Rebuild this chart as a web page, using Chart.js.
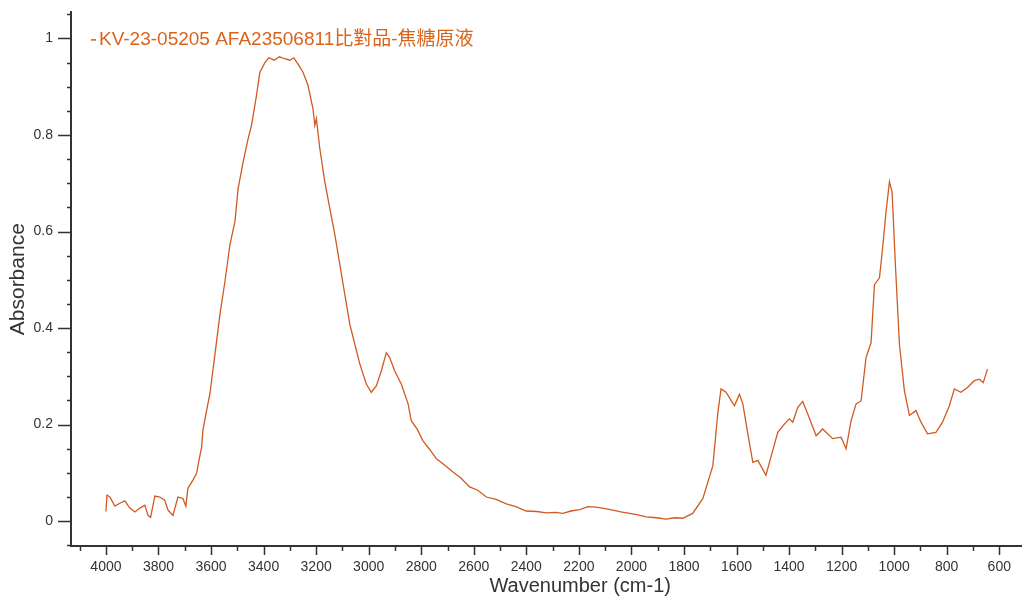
<!DOCTYPE html>
<html lang="zh-Hant">
<head>
    <meta charset="UTF-8">
    <title>FTIR Spectrum</title>
    <script src="https://cdn.jsdelivr.net/npm/chart.js"></script>
    <style>
        html, body { margin: 0; padding: 0; background: #fff; overflow: hidden; }
        #irChart { display: block; }
    </style>
</head>
<body>
    <canvas id="irChart" width="1024" height="601"></canvas>

    <script>
        // values
        const seriesName = 'KV-23-05205 AFA23506811比對品-焦糖原液';
        const xTitle = 'Wavenumber (cm-1)';

        const wavenumbers = [
            4000, 3996, 3985, 3966, 3947, 3928, 3909, 3890, 3871, 3852,
            3840, 3830, 3814, 3795, 3776, 3764, 3745, 3726, 3707, 3696,
            3688, 3669, 3655, 3646, 3636, 3631, 3617, 3604, 3585, 3566,
            3547, 3528, 3509, 3497, 3478, 3459, 3446, 3427, 3414, 3395,
            3380, 3360, 3340, 3320, 3300, 3285, 3269, 3250, 3231, 3212,
            3205, 3199, 3186, 3167, 3148, 3129, 3110, 3091, 3072, 3053,
            3034, 3009, 2990, 2971, 2952, 2933, 2920, 2901, 2876, 2850,
            2838, 2815, 2794, 2770, 2742, 2710, 2679, 2650, 2616, 2585,
            2552, 2515, 2476, 2440, 2400, 2360, 2324, 2290, 2261, 2230,
            2197, 2165, 2134, 2100, 2071, 2040, 2007, 1975, 1944, 1905,
            1868, 1835, 1805, 1767, 1728, 1690,
            1671, 1659, 1640, 1608, 1589, 1576, 1557, 1538, 1519, 1488,
            1469, 1443, 1418, 1399, 1386, 1367, 1348, 1329, 1297, 1272,
            1234, 1202, 1183, 1164, 1145, 1126, 1107, 1088, 1075, 1056,
            1044, 1031, 1018, 1008, 996, 980, 961, 942, 917, 898,
            873, 841, 816, 790, 771, 746, 721, 695, 676, 661,
            645
        ];

        const absorbance = [
            0.020, 0.054, 0.050, 0.031, 0.037, 0.042, 0.027, 0.019, 0.027, 0.033,
            0.012, 0.008, 0.052, 0.050, 0.043, 0.023, 0.012, 0.050, 0.047, 0.031,
            0.068, 0.085, 0.099, 0.126, 0.153, 0.188, 0.229, 0.265, 0.346, 0.429,
            0.497, 0.573, 0.621, 0.689, 0.744, 0.792, 0.820, 0.882, 0.930, 0.950,
            0.960, 0.955, 0.962, 0.958, 0.955, 0.960, 0.947, 0.930, 0.903, 0.854,
            0.820, 0.834, 0.772, 0.703, 0.648, 0.594, 0.532, 0.470, 0.408, 0.367,
            0.326, 0.284, 0.267, 0.280, 0.311, 0.349, 0.339, 0.311, 0.284, 0.243,
            0.208, 0.190, 0.167, 0.150, 0.129, 0.116, 0.102, 0.090, 0.071, 0.064,
            0.050, 0.045, 0.036, 0.030, 0.021, 0.020, 0.017, 0.018, 0.016, 0.021,
            0.024, 0.030, 0.029, 0.026, 0.023, 0.019, 0.016, 0.013, 0.009, 0.007,
            0.004, 0.007, 0.006, 0.016, 0.047, 0.115,
            0.225, 0.274, 0.267, 0.239, 0.263, 0.243, 0.181, 0.122, 0.126, 0.095,
            0.133, 0.184, 0.201, 0.212, 0.205, 0.236, 0.248, 0.222, 0.177, 0.191,
            0.171, 0.174, 0.150, 0.208, 0.243, 0.249, 0.339, 0.370, 0.490, 0.504,
            0.566, 0.641, 0.703, 0.682, 0.538, 0.366, 0.270, 0.219, 0.229, 0.205,
            0.181, 0.184, 0.205, 0.239, 0.274, 0.267, 0.277, 0.291, 0.294, 0.287,
            0.315
        ];

        const xTickValues = [4000, 3800, 3600, 3400, 3200, 3000, 2800, 2600, 2400, 2200,
                             2000, 1800, 1600, 1400, 1200, 1000, 800, 600];
        const yTickValues = [0, 0.2, 0.4, 0.6, 0.8, 1];
        const xMinorStep = 100;
        const yMinorStep = 0.05;

        const points = wavenumbers.map((w, i) => ({ x: w, y: absorbance[i] }));
        const lineColor = '#cf5a22';
        const textColor = '#333';
        const fontFamily = 'Arial, "Liberation Sans", sans-serif';

        // tick marks outside the plot, the legend entry and the x title
        const axisDecor = {
            id: 'axisDecor',
            afterDraw(chart) {
                const ctx = chart.ctx;
                const xs = chart.scales.x;
                const ys = chart.scales.y;
                const area = chart.chartArea;
                ctx.save();
                ctx.strokeStyle = '#333';
                ctx.lineWidth = 1.5;
                ctx.beginPath();
                for (let v = Math.ceil(xs.min / xMinorStep) * xMinorStep; v <= xs.max; v += xMinorStep) {
                    const px = Math.round(xs.getPixelForValue(v)) + 0.5;
                    const len = xTickValues.includes(v) ? 9 : 5;
                    ctx.moveTo(px, area.bottom);
                    ctx.lineTo(px, area.bottom + len);
                }
                for (let i = Math.ceil(ys.min / yMinorStep); i * yMinorStep <= ys.max; i++) {
                    const py = Math.round(ys.getPixelForValue(i * yMinorStep)) + 0.5;
                    const len = i % 4 === 0 ? 13 : 4;
                    ctx.moveTo(area.left, py);
                    ctx.lineTo(area.left - len, py);
                }
                ctx.stroke();

                // legend entry inside the plot, top left
                const ds = chart.data.datasets[0];
                const ly = area.top + 27;
                ctx.strokeStyle = ds.borderColor;
                ctx.lineWidth = 1.5;
                ctx.beginPath();
                ctx.moveTo(area.left + 20, ly + 0.5);
                ctx.lineTo(area.left + 25, ly + 0.5);
                ctx.stroke();
                ctx.fillStyle = '#d9631b';
                ctx.font = '19px Arial, "Liberation Sans", "Noto Sans CJK TC", sans-serif';
                ctx.textBaseline = 'middle';
                ctx.textAlign = 'left';
                ctx.fillText(ds.label, area.left + 28, ly);

                // axis title sits right of centre in the original
                ctx.fillStyle = textColor;
                ctx.font = '20px ' + fontFamily;
                ctx.textAlign = 'center';
                ctx.fillText(xTitle, xs.getPixelForValue(2195), area.bottom + 40);
                ctx.restore();
            }
        };

        const ctx = document.getElementById('irChart').getContext('2d');
        new Chart(ctx, {
            type: 'line',
            data: {
                datasets: [{
                    label: seriesName,
                    data: points,
                    borderColor: lineColor,
                    backgroundColor: lineColor,
                    borderWidth: 1.3,
                    pointRadius: 0,
                    tension: 0
                }]
            },
            options: {
                responsive: false,
                animation: false,
                devicePixelRatio: 1,
                layout: { padding: { top: 10, right: 2, left: 0, bottom: 0 } },
                plugins: {
                    legend: { display: false },
                    tooltip: { enabled: false }
                },
                scales: {
                    x: {
                        type: 'linear',
                        reverse: true,
                        min: 516,
                        max: 4133,
                        grid: { display: false, drawTicks: false },
                        border: { display: true, color: '#333', width: 2 },
                        afterBuildTicks(scale) {
                            scale.ticks = xTickValues.map(v => ({ value: v }));
                        },
                        ticks: {
                            autoSkip: false,
                            maxRotation: 0,
                            padding: 13,
                            color: textColor,
                            font: { family: fontFamily, size: 14 },
                            callback: v => String(v)
                        },
                        title: { display: false },
                        afterFit(scale) { scale.height = 55; }
                    },
                    y: {
                        min: -0.0515,
                        max: 1.054,
                        grid: {
                            display: true,
                            drawOnChartArea: false,
                            drawTicks: true,
                            tickLength: 14,
                            tickColor: 'rgba(0,0,0,0)'
                        },
                        border: { display: true, color: '#333', width: 2 },
                        afterBuildTicks(scale) {
                            scale.ticks = yTickValues.map(v => ({ value: v }));
                        },
                        ticks: {
                            padding: 4,
                            color: textColor,
                            font: { family: fontFamily, size: 14 },
                            callback: v => String(v)
                        },
                        title: {
                            display: true,
                            text: 'Absorbance',
                            color: textColor,
                            padding: { top: 6, bottom: 0 },
                            font: { family: fontFamily, size: 21 }
                        },
                        afterFit(scale) { scale.width = 71; }
                    }
                }
            },
            plugins: [axisDecor]
        });
    </script>
</body>
</html>
